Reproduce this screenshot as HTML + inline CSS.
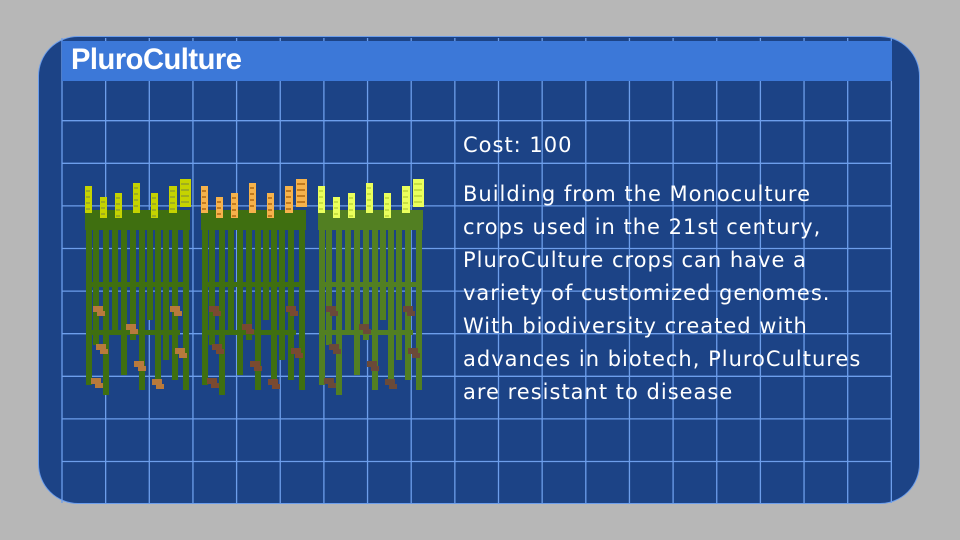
<!DOCTYPE html>
<html><head><meta charset="utf-8"><style>
body{margin:0;width:960px;height:540px;background:#b7b7b7;overflow:hidden;font-family:"Liberation Sans",sans-serif}
#card{position:absolute;left:38px;top:36px;width:882px;height:468px;border-radius:40px;background:#1c4386;border:1px solid #6d9eeb;box-sizing:border-box}
#title{position:absolute;left:62px;top:41px;width:830px;height:40px;background:#3c78d8}
#title span{position:absolute;left:9px;top:2px;color:#fff;font-weight:bold;font-size:30px;letter-spacing:-0.5px;transform:scaleX(0.97);transform-origin:left}
.txt{position:absolute;left:463px;color:#fff;font-family:"DejaVu Sans",sans-serif;font-size:21px;line-height:33px;letter-spacing:1px}
</style></head><body>
<div id="card"></div>
<svg id="grid" width="960" height="540" style="position:absolute;left:0;top:0"></svg>
<div id="title"><span>PluroCulture</span></div>
<svg id="plants" width="960" height="540" style="position:absolute;left:0;top:0"></svg>
<div class="txt" style="top:129px">Cost: 100</div>
<div class="txt" style="top:178px">Building from the Monoculture<br>crops used in the 21st century,<br>PluroCulture crops can have a<br>variety of customized genomes.<br>With biodiversity created with<br>advances in biotech, PluroCultures<br>are resistant to disease</div>
<script>
const NS='http://www.w3.org/2000/svg';
const g=document.getElementById('grid');
function ln(x1,y1,x2,y2){const l=document.createElementNS(NS,'line');l.setAttribute('x1',x1);l.setAttribute('y1',y1);l.setAttribute('x2',x2);l.setAttribute('y2',y2);l.setAttribute('stroke','#6d9eeb');l.setAttribute('stroke-width','1.3');


g.appendChild(l);}
for(let i=0;i<20;i++){const x=62+i*43.65;if(x<=893)ln(x,38,x,503);}
for(let j=0;j<9;j++){const y=120.7+j*42.6;ln(62,y,892,y);}
const p=document.getElementById('plants');
function r(x,y,w,h,c,n){const e=document.createElementNS(NS,'rect');e.setAttribute('x',x);e.setAttribute('y',y);e.setAttribute('width',w);e.setAttribute('height',h);e.setAttribute('fill',c);


p.appendChild(e);}
const groups=[{dx:0,head:'#c5d300',dark:'#9fae1e',stem:'#3f6f10',root:'#b87a3c'},{dx:116,head:'#f6b24b',dark:'#c27a1d',stem:'#3f6f10',root:'#7a4a30'},{dx:233,head:'#eaff5c',dark:'#c8e040',stem:'#527f22',root:'#6b4a38'}];
const heads=[[85,186,7,27],[100,197,7,21],[115,193,7,25],[133,183,7,30],[151,193,7,25],[169,186,8,27],[180,179,11,28]];
const stems=[[86,230,155],[93,225,120],[103,230,165],[112,230,100],[121,225,150],[130,230,110],[139,230,160],[147,230,90],[155,225,160],[163,230,130],[172,230,150],[183,215,175]];
const roots=[[93,306],[126,324],[96,344],[170,306],[175,348],[134,361],[91,378],[152,379]];
groups.forEach(G=>{
 r(G.dx+85,210,105,20,G.stem,'leaf-band');
 stems.forEach(s=>r(G.dx+s[0],s[1],6,s[2],G.stem,'stem'));
 r(G.dx+86,282,100,5,G.stem,'stem-band');
 r(G.dx+90,330,90,5,G.stem,'stem-band');
 roots.forEach(q=>{r(G.dx+q[0],q[1],10,6,G.root,'root');r(G.dx+q[0]+4,q[1]+5,8,5,G.root,'root');});
 heads.forEach(h=>{r(G.dx+h[0],h[1],h[2],h[3],G.head,'grain-head');for(let y=h[1]+4;y<h[1]+h[3]-2;y+=6)r(G.dx+h[0]+1,y,h[2]-3,2,G.dark,'grain');});
});
</script>
</body></html>
